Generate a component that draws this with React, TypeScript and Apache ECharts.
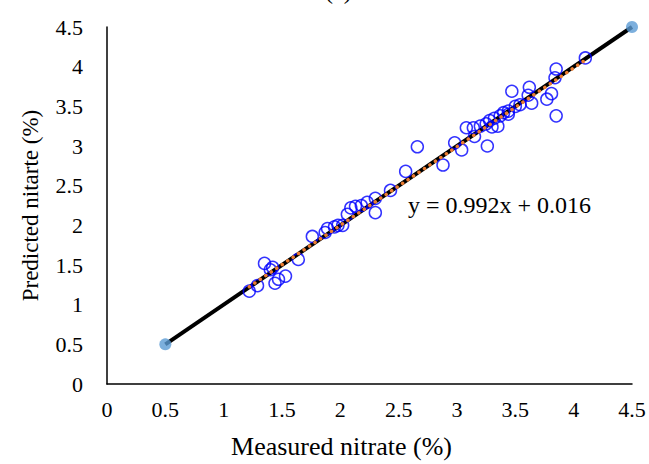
import React, { useEffect, useRef } from "react";
import * as echarts from "echarts";

const measured = [
  1.22, 1.29, 1.35, 1.40, 1.42, 1.44, 1.47, 1.53, 1.64,
  1.76, 1.87, 1.89, 1.95, 1.98, 2.02, 2.06, 2.09, 2.13, 2.18, 2.23, 2.30, 2.30, 2.43, 2.56, 2.66,
  2.88, 2.98, 3.04, 3.08, 3.14, 3.15, 3.20, 3.25, 3.26, 3.28, 3.30, 3.32, 3.35, 3.37, 3.40, 3.44,
  3.44, 3.47, 3.50, 3.54, 3.61, 3.62, 3.64, 3.77, 3.81, 3.84, 3.85, 3.85, 4.10,
];
const predicted = [
  1.17, 1.24, 1.52, 1.44, 1.47, 1.27, 1.32, 1.36, 1.57,
  1.86, 1.91, 1.96, 1.98, 2.00, 2.00, 2.14, 2.22, 2.24, 2.25, 2.29, 2.34, 2.16, 2.44, 2.68, 2.99,
  2.76, 3.04, 2.95, 3.23, 3.23, 3.12, 3.25, 3.28, 3.00, 3.32, 3.24, 3.35, 3.25, 3.38, 3.42, 3.44,
  3.40, 3.69, 3.50, 3.52, 3.64, 3.74, 3.54, 3.59, 3.66, 3.86, 3.97, 3.38, 4.11,
];
const refLine = [
  [0.5, 0.5],
  [4.5, 4.5],
];
const slope = 0.992;
const intercept = 0.016;
const trendX = [1.22, 4.1];
const equationText = "y = 0.992x + 0.016";
const titleText = "(a)";

export default function App() {
  const ref = useRef<HTMLDivElement>(null);
  useEffect(() => {
    if (!ref.current) return;
    const chart = echarts.init(ref.current, undefined, { renderer: "svg" });
    const font = "'Liberation Serif', 'Times New Roman', serif";
    const option = {
      animation: false,
      backgroundColor: "#fff",
      textStyle: { fontFamily: font },
      grid: { left: 107, right: 17, top: 27, bottom: 79, containLabel: false },
      xAxis: {
        type: "value",
        min: 0,
        max: 4.5,
        interval: 0.5,
        name: "Measured nitrate (%)",
        nameLocation: "middle",
        nameGap: 49,
        nameTextStyle: {
          fontFamily: font,
          fontSize: 26,
          color: "#000",
          padding: [0, 56, 0, 0],
        },
        axisLine: { show: true, lineStyle: { color: "#000", width: 1.5 } },
        axisTick: { show: false },
        splitLine: { show: false },
        axisLabel: { fontFamily: font, fontSize: 22, color: "#000", margin: 14 },
      },
      yAxis: {
        type: "value",
        min: 0,
        max: 4.5,
        interval: 0.5,
        name: "Predicted nitarte (%)",
        nameLocation: "middle",
        nameGap: 65,
        nameTextStyle: { fontFamily: font, fontSize: 23, color: "#000" },
        axisLine: { show: true, lineStyle: { color: "#000", width: 1.5 } },
        axisTick: { show: false },
        splitLine: { show: false },
        axisLabel: { fontFamily: font, fontSize: 22, color: "#000", margin: 24 },
      },
      graphic: [
        {
          type: "text",
          left: 325,
          top: -21,
          style: { text: titleText, fontFamily: font, fontSize: 24, fill: "#000" },
        },
        {
          type: "text",
          left: 408,
          top: 193,
          style: { text: equationText, fontFamily: font, fontSize: 24, fill: "#000" },
        },
      ],
      series: [
        {
          type: "line",
          data: refLine,
          symbol: "none",
          lineStyle: { color: "#000", width: 4 },
          z: 1,
        },
        {
          type: "scatter",
          data: refLine,
          symbol: "circle",
          symbolSize: 12,
          itemStyle: { color: "#5B9BD5" },
          z: 2,
        },
        {
          type: "scatter",
          data: measured.map((m, i) => [m, predicted[i]]),
          symbol: "circle",
          symbolSize: 12,
          itemStyle: { color: "rgba(0,0,0,0)", borderColor: "#0000FF", borderWidth: 1.5 },
          z: 3,
        },
        {
          type: "line",
          data: trendX.map((x) => [x, slope * x + intercept]),
          symbol: "none",
          lineStyle: { color: "#ED7D31", width: 3.5, type: [0.1, 6.5], cap: "round" },
          z: 4,
        },
      ],
    };
    chart.setOption(option as any);
    return () => chart.dispose();
  }, []);
  return (
    <div
      ref={ref}
      style={{ position: "fixed", left: 0, top: 0, width: 649, height: 464 }}
    />
  );
}
